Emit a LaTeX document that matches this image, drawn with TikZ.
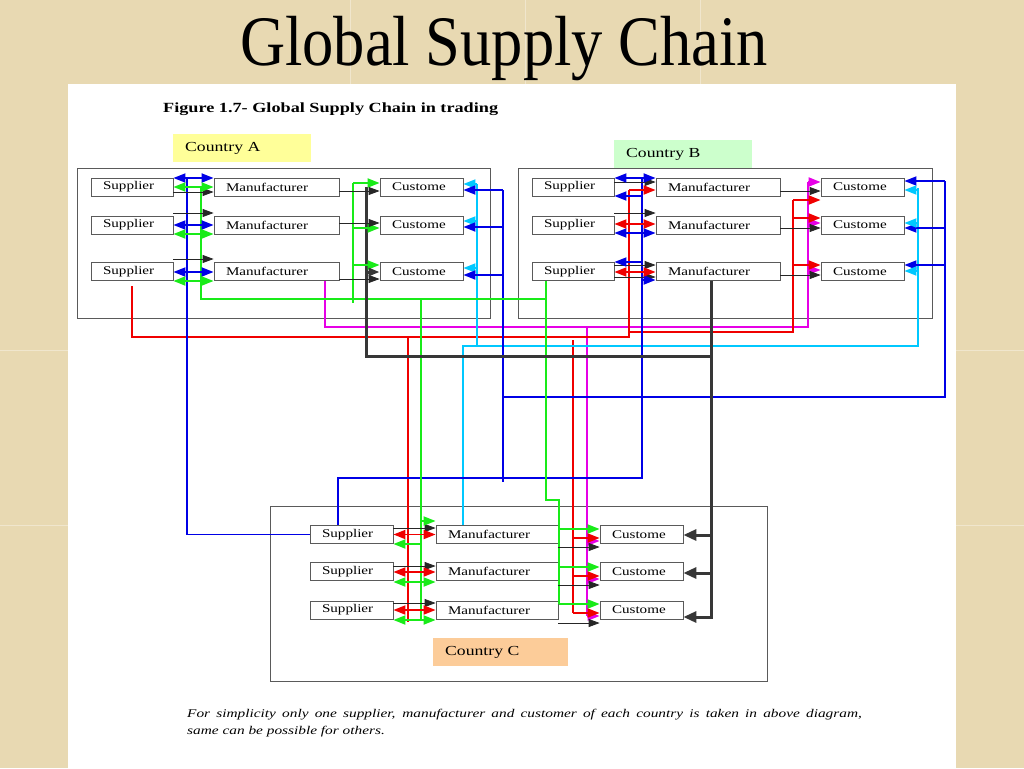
\documentclass[tikz,border=0pt]{standalone}
\usepackage{fontspec}
\setmainfont{Liberation Serif}
\usepackage{graphicx}
\usetikzlibrary{arrows.meta}

\definecolor{parch}{RGB}{232,217,178}
\definecolor{boxgray}{RGB}{90,90,90}
\definecolor{lnblue}{RGB}{0,0,230}
\definecolor{lngreen}{RGB}{25,235,25}
\definecolor{lnred}{RGB}{240,0,0}
\definecolor{lnmag}{RGB}{230,0,230}
\definecolor{lncyan}{RGB}{0,200,255}
\definecolor{lndark}{RGB}{55,55,55}
\definecolor{tagyellow}{RGB}{255,255,153}
\definecolor{taggreen}{RGB}{204,255,204}
\definecolor{tagorange}{RGB}{252,204,153}

\newcommand{\unitfont}{\fontsize{11.8}{13}\selectfont}
\newcommand{\tagfont}{\fontsize{13.8}{16}\selectfont}
\newcommand{\boxtext}[2]{\makebox[#1][l]{\hspace{12pt}\scalebox{1.28}[1]{#2}}}

\begin{document}
\begin{tikzpicture}[x=1pt, y=-1pt]
    \tikzset{
        unit/.style={draw=boxgray, fill=white, line width=0.8pt, minimum height=18pt, inner sep=0pt, font=\unitfont},
        ctag/.style={inner sep=0pt, minimum height=28pt, anchor=north west, font=\tagfont},
        cframe/.style={draw=boxgray, line width=0.9pt},
        wire/.style={line width=1.8pt},
        lnk/.style={draw=black!85, line width=0.8pt},
        heavy/.style={draw=lndark, line width=3pt},
        arr/.style={-{Triangle[length=12pt,width=9pt]}},
        darr/.style={{Triangle[length=12pt,width=9pt]}-{Triangle[length=12pt,width=9pt]}},
        karr/.style={-{Triangle[length=11pt,width=8pt]}},
        harr/.style={-{Triangle[length=13pt,width=11pt]}}
    }

    \useasboundingbox (0,0) rectangle (1024,768);
    \fill[parch] (0,0) rectangle (1024,768);
    \foreach \x in {350,525,700} \draw[white!35!parch, line width=0.8pt] (\x,0) -- (\x,84);
    \foreach \y in {350,525} {
        \draw[white!35!parch, line width=0.8pt] (0,\y) -- (68,\y);
        \draw[white!35!parch, line width=0.8pt] (956,\y) -- (1024,\y);
    }
    \fill[white] (68,84) rectangle (956,768);

    \node[font=\fontsize{71}{80}\selectfont, anchor=base, inner sep=0pt] (title) at (504,65) {\scalebox{0.88}[1]{Global Supply Chain}};
    \node[font=\fontsize{14}{16}\selectfont\bfseries, anchor=base west, inner sep=0pt] (caption) at (163,112) {\scalebox{1.3}[1]{Figure 1.7- Global Supply Chain in trading}};

    % country frames
    \draw[cframe] (77,168) rectangle (490,318);
    \draw[cframe] (518,168) rectangle (932,318);
    \draw[cframe] (270,506) rectangle (767,681);
    \node[ctag, fill=tagyellow] (tagA) at (173,134) {\boxtext{138pt}{Country A}};
    \node[ctag, fill=taggreen] (tagB) at (614,140) {\boxtext{138pt}{Country B}};
    \node[ctag, fill=tagorange] (tagC) at (433,638) {\boxtext{135pt}{Country C}};

    % supplier, manufacturer, customer boxes
    \foreach \i/\y in {1/187,2/225,3/271.5} {
        \node[unit] (sA\i) at (132,\y) {\boxtext{82pt}{Supplier}};
        \node[unit] (mA\i) at (276.5,\y) {\boxtext{125pt}{Manufacturer}};
        \node[unit] (cA\i) at (421.5,\y) {\boxtext{83pt}{Custome}};
        \node[unit] (sB\i) at (573,\y) {\boxtext{82pt}{Supplier}};
        \node[unit] (mB\i) at (718,\y) {\boxtext{124pt}{Manufacturer}};
        \node[unit] (cB\i) at (862.5,\y) {\boxtext{83pt}{Custome}};
    }
    \foreach \i/\y in {1/534.5,2/571.5,3/610} {
        \node[unit] (sC\i) at (351.5,\y) {\boxtext{83pt}{Supplier}};
        \node[unit] (mC\i) at (497,\y) {\boxtext{122pt}{Manufacturer}};
        \node[unit] (cC\i) at (641.5,\y) {\boxtext{83pt}{Custome}};
    }

    % bus points
    \coordinate (blueA) at (187,178);
    \coordinate (greenA) at (201,187);
    \coordinate (greenJ) at (546,299);
    \coordinate (greenB) at (546,281);
    \coordinate (greenK) at (559,500);
    \coordinate (greenCA) at (353,183);
    \coordinate (greenC) at (421,299);
    \coordinate (heavyA) at (366,187);
    \coordinate (heavyJ) at (711,356);
    \coordinate (cyanA) at (477,184);
    \coordinate (cyanJ) at (463,346);
    \coordinate (cyanB) at (918,188);
    \coordinate (blueCA) at (503,190);
    \coordinate (blueJ) at (503,397);
    \coordinate (blueCB) at (945,181);
    \coordinate (blueB) at (642,178);
    \coordinate (blueJC) at (338,478);
    \coordinate (redA) at (132,286);
    \coordinate (redJ) at (629,337);
    \coordinate (redB) at (629,190);
    \coordinate (redJB) at (793,332);
    \coordinate (redCB) at (793,200);
    \coordinate (redC) at (408,337);
    \coordinate (redCC) at (573,340);
    \coordinate (magA) at (325,281);
    \coordinate (magJ) at (808,327);
    \coordinate (magCB) at (808,182);
    \coordinate (magC) at (587,327);

    % long trunks
    \draw[wire, lnmag] (magA) |- (magJ) -- (magCB);
    \draw[wire, lnmag] (magC) -- (magC |- 0,616);
    \draw[wire, lnred] (redA) |- (redJ) -- (redB);
    \draw[wire, lnred] (redJ |- redJB) -- (redJB) -- (redCB);
    \draw[wire, lnred] (redC) -- (redC |- 0,622);
    \draw[wire, lnred] (redCC) -- (redCC |- 0,613);
    \draw[wire, lncyan] (cyanA) -- (cyanA |- cyanJ);
    \draw[wire, lncyan] (mC1.north -| cyanJ) -- (cyanJ) -| (cyanB);
    \draw[wire, lnblue] (blueA) |- (sC1.west);
    \draw[wire, lnblue] (blueCA) -- (blueCA |- 0,482);
    \draw[wire, lnblue] (blueJ) -| (blueCB);
    \draw[wire, lnblue] (sC1.north -| blueJC) -- (blueJC) -| (blueB);
    \draw[wire, lngreen] (greenA) |- (greenJ);
    \draw[wire, lngreen] (greenB) |- (greenK) -- (greenK |- 0,604);
    \draw[wire, lngreen] (greenCA) -- (greenCA |- 0,303);
    \draw[wire, lngreen] (greenC) -- (greenC |- 0,620);
    \draw[heavy] (heavyA) |- (heavyJ);
    \draw[heavy, harr] (mB3.south -| heavyJ) |- (cC3.east |- 0,617);
    \foreach \i/\y in {1/535,2/573} \draw[heavy, harr] (heavyJ |- 0,\y) -- (cC\i.east |- 0,\y);

    % country A
    \foreach \i/\y in {1/192,2/213,3/259} \draw[lnk, karr] (sA\i.east |- 0,\y) -- (mA\i.west |- 0,\y);
    \foreach \i/\y in {1/178,2/225,3/272} \draw[wire, lnblue, darr] (sA\i.east |- 0,\y) -- (mA\i.west |- 0,\y);
    \foreach \i/\y in {1/187,2/234,3/281} \draw[wire, lngreen, darr] (sA\i.east |- 0,\y) -- (mA\i.west |- 0,\y);
    \foreach \i/\y in {1/183,2/228,3/265} \draw[wire, lngreen, arr] (greenCA |- 0,\y) -- (cA\i.west |- 0,\y);
    \foreach \i/\y in {1/191,2/223,3/279} \draw[lnk, karr] (mA\i.east |- 0,\y) -- (cA\i.west |- 0,\y);
    \draw[heavy, karr] (heavyA |- 0,272) -- (cA3.west |- 0,272);
    \foreach \i/\y in {1/184,2/221,3/268} \draw[wire, lncyan, arr] (cyanA |- 0,\y) -- (cA\i.east |- 0,\y);
    \foreach \i/\y in {1/190,2/227,3/275} \draw[wire, lnblue, arr] (blueCA |- 0,\y) -- (cA\i.east |- 0,\y);

    % country B
    \foreach \i/\y in {1/182,2/213,3/265} \draw[lnk, karr] (sB\i.east |- 0,\y) -- (mB\i.west |- 0,\y);
    \draw[lnk, karr] (sB3.east |- 0,277) -- (mB3.west |- 0,277);
    \draw[wire, lnblue, darr] (sB1.east |- 0,178) -- (mB1.west |- 0,178);
    \draw[wire, lnblue, darr] (sB2.east |- 0,233) -- (mB2.west |- 0,233);
    \draw[wire, lnblue, arr] (blueB |- 0,196) -- (sB1.east |- 0,196);
    \draw[wire, lnblue, arr] (blueB |- 0,262) -- (sB3.east |- 0,262);
    \draw[wire, lnblue, arr] (blueB |- 0,280) -- (mB3.west |- 0,280);
    \draw[wire, lnred, arr] (redB) -- (mB1.west |- redB);
    \foreach \i/\y in {2/224,3/272} \draw[wire, lnred, darr] (sB\i.east |- 0,\y) -- (mB\i.west |- 0,\y);
    \foreach \i/\y in {1/182,2/223,3/270} \draw[wire, lnmag, arr] (magCB |- 0,\y) -- (cB\i.west |- 0,\y);
    \foreach \i/\y in {1/200,2/218,3/265} \draw[wire, lnred, arr] (redCB |- 0,\y) -- (cB\i.west |- 0,\y);
    \foreach \i/\y in {1/191,2/228,3/275} \draw[lnk, karr] (mB\i.east |- 0,\y) -- (cB\i.west |- 0,\y);
    \foreach \i/\y in {1/181,2/228,3/265} \draw[wire, lnblue, arr] (blueCB |- 0,\y) -- (cB\i.east |- 0,\y);
    \foreach \i/\y in {1/190,2/223,3/271} \draw[wire, lncyan, arr] (cyanB |- 0,\y) -- (cB\i.east |- 0,\y);

    % country C
    \foreach \i/\y in {1/528,2/566,3/603} \draw[lnk, karr] (sC\i.east |- 0,\y) -- (mC\i.west |- 0,\y);
    \foreach \i/\y in {1/534.5,2/572,3/610} \draw[wire, lnred, darr] (sC\i.east |- 0,\y) -- (mC\i.west |- 0,\y);
    \draw[wire, lngreen, arr] (greenC |- 0,521) -- (mC1.west |- 0,521);
    \draw[wire, lngreen, arr] (greenC |- 0,544) -- (sC1.east |- 0,544);
    \foreach \i/\y in {2/582,3/620} \draw[wire, lngreen, darr] (sC\i.east |- 0,\y) -- (mC\i.west |- 0,\y);
    \foreach \i/\y in {1/541,2/579,3/616} \draw[wire, lnmag, arr] (magC |- 0,\y) -- (cC\i.west |- 0,\y);
    \foreach \i/\y in {1/529,2/567,3/604} \draw[wire, lngreen, arr] (greenK |- 0,\y) -- (cC\i.west |- 0,\y);
    \foreach \i/\y in {1/538,2/576,3/613} \draw[wire, lnred, arr] (redCC |- 0,\y) -- (cC\i.west |- 0,\y);
    \foreach \i/\y in {1/547,2/585,3/623} \draw[lnk, karr] (mC\i.east |- 0,\y) -- (cC\i.west |- 0,\y);

    \node[font=\fontsize{11.8}{14}\selectfont\itshape, anchor=base west, inner sep=0pt] (note1) at (187,717) {\scalebox{1.3}[1]{\makebox[519pt][s]{For simplicity only one supplier, manufacturer and customer of each country is taken in above diagram,}}};
    \node[font=\fontsize{11.8}{14}\selectfont\itshape, anchor=base west, inner sep=0pt] (note2) at (187,734) {\scalebox{1.3}[1]{same can be possible for others.}};
\end{tikzpicture}
\end{document}
